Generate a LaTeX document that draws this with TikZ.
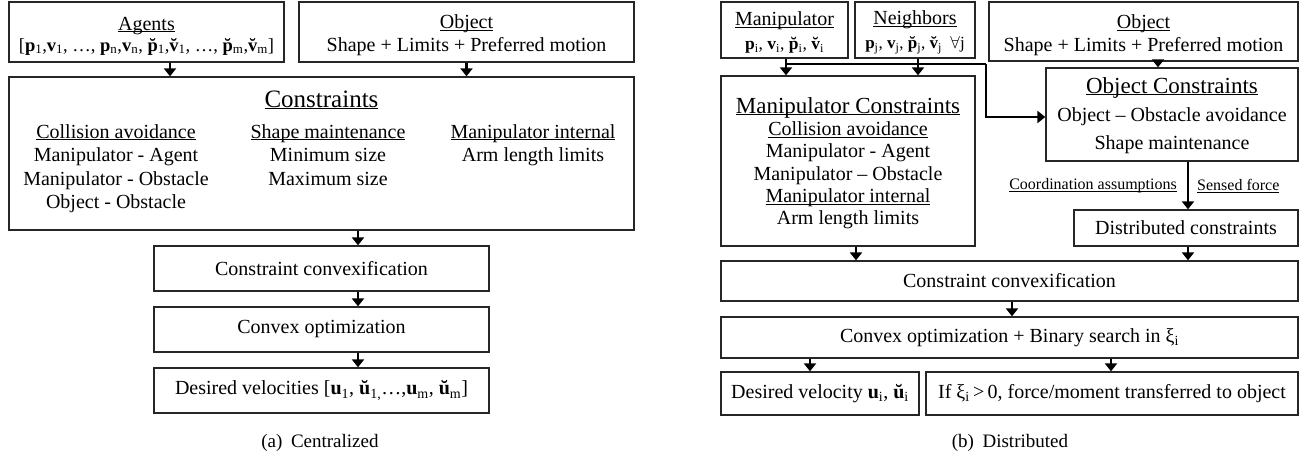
\documentclass[tikz,border=0pt]{standalone}
\usepackage{fontspec}
\setmainfont{Liberation Serif}
\usetikzlibrary{arrows.meta,calc}
\newcommand{\bfl}[1]{\textbf{#1}}
\newcommand{\bfb}[1]{\textbf{\accent"02D8 #1}}
\newcommand{\sbx}[1]{\textsubscript{#1}}
\newcommand{\ulx}[1]{\underline{\smash{#1}}\vphantom{#1}}
\newcommand{\tstrut}[1]{\rule{0pt}{#1}}
\tikzset{
  box/.style={draw=black!85, line width=1.3pt, rectangle, inner sep=0pt, align=center,
    font=\fontsize{20}{21}\selectfont},
  txt/.style={inner sep=0pt, align=center, font=\fontsize{20}{23.5}\selectfont},
  ttl/.style={inner sep=0pt, align=center, font=\fontsize{25}{27}\selectfont},
  lab/.style={inner sep=0pt, font=\fontsize{16}{18}\selectfont},
  captext/.style={inner sep=0pt, font=\fontsize{19}{21}\selectfont},
  arr/.style={line width=2.8pt, -{Triangle[width=12pt,length=8pt]}},
  bus/.style={line width=2.8pt}
}
\begin{document}
\begin{tikzpicture}[x=1pt,y=-1pt]
\useasboundingbox (0,0) rectangle (1307,461);

% ---------------- (a) Centralized ----------------
\node[box, minimum width=275pt, minimum height=60pt] (agents) at (146.5,32)
  {\tstrut{21pt}\ulx{Agents}\\[0pt]
   {\fontsize{18.5}{20}\selectfont [\bfl{p}\sbx{1},\bfl{v}\sbx{1}, …, \bfl{p}\sbx{n},\bfl{v}\sbx{n}, \bfb{p}\sbx{1},\bfb{v}\sbx{1}, …, \bfb{p}\sbx{m},\bfb{v}\sbx{m}]}};
\node[box, minimum width=335pt, minimum height=60pt] (objA) at (466.5,32)
  {\tstrut{21pt}\ulx{Object}\\[2pt] Shape + Limits + Preferred motion};
\node[box, minimum width=625pt, minimum height=153pt] (cons) at (321.5,153.5) {};
\node[ttl] (consT) at (321.5,100) {\ulx{Constraints}};
\node[txt, anchor=north] (c1) at (116,124)
  {\ulx{Collision avoidance}\\ Manipulator - Agent\\ Manipulator - Obstacle\\ Object - Obstacle};
\node[txt, anchor=north] (c2) at (328,124)
  {\ulx{Shape maintenance}\\ Minimum size\\ Maximum size};
\node[txt, anchor=north] (c3) at (533,124)
  {\ulx{Manipulator internal}\\ Arm length limits};
\node[box, minimum width=335pt, minimum height=45pt] (conv) at (321.5,268.5) {Constraint convexification};
\node[box, minimum width=335pt, minimum height=45pt] (opt) at (321.5,329.5) {Convex optimization};
\node[box, minimum width=335pt, minimum height=45pt] (des) at (321.5,390.5)
  {Desired velocities [\bfl{u}\sbx{1}, \bfb{u}\sbx{1,}…,\bfl{u}\sbx{m}, \bfb{u}\sbx{m}]};
\node[captext] (capA) at (320,443) {(a)\hspace{0.45em}Centralized};

\coordinate (xa) at (170,0);
\coordinate (xc) at (358,0);
\draw[arr] (agents.south -| xa) -- (cons.north -| xa);
\draw[arr] (objA.south) -- (cons.north -| objA.south);
\draw[arr] (cons.south -| xc) -- (conv.north -| xc);
\draw[arr] (conv.south -| xc) -- (opt.north -| xc);
\draw[arr] (opt.south -| xc) -- (des.north -| xc);

% ---------------- (b) Distributed ----------------
\node[box, minimum width=127pt, minimum height=56pt] (manip) at (784.5,30)
  {\tstrut{19pt}\ulx{Manipulator}\\[3pt]
   {\fontsize{17.5}{20}\selectfont \bfl{p}\sbx{i}, \bfl{v}\sbx{i}, \bfb{p}\sbx{i}, \bfb{v}\sbx{i}}};
\node[box, minimum width=120pt, minimum height=56pt] (neigh) at (915,30)
  {\tstrut{19pt}\ulx{Neighbors}\\[3pt]
   {\fontsize{17}{20}\selectfont \bfl{p}\sbx{j}, \bfl{v}\sbx{j}, \bfb{p}\sbx{j}, \bfb{v}\sbx{j}\ \ $\forall$j}};
\node[box, minimum width=309pt, minimum height=59pt] (objB) at (1143.5,31.5)
  {\tstrut{21pt}\ulx{Object}\\[2pt] Shape + Limits + Preferred motion};
\node[box, minimum width=254pt, minimum height=170pt] (mcons) at (848,161) {};
\node[txt, anchor=north, font=\fontsize{20}{22.3}\selectfont] (mconsT) at (848,97)
  {{\fontsize{23}{24}\selectfont\ulx{Manipulator Constraints}}\\
   \ulx{Collision avoidance}\\ Manipulator - Agent\\ Manipulator – Obstacle\\
   \ulx{Manipulator internal}\\ Arm length limits};
\node[box, minimum width=252pt, minimum height=93pt] (ocons) at (1172,114.5) {};
\node[txt, anchor=north, font=\fontsize{20}{28}\selectfont] (oconsT) at (1172,77)
  {{\fontsize{23}{24}\selectfont\ulx{Object Constraints}}\\
   Object – Obstacle avoidance\\ Shape maintenance};
\node[box, minimum width=224pt, minimum height=36pt] (dist) at (1186,228) {Distributed constraints};
\node[box, minimum width=577pt, minimum height=40pt] (convB) at (1009.5,281) {Constraint convexification};
\node[box, minimum width=577pt, minimum height=41pt] (optB) at (1009.5,337.5)
  {Convex optimization + Binary search in ξ\sbx{i}};
\node[box, minimum width=198pt, minimum height=43pt] (desB) at (820,393.5)
  {Desired velocity \bfl{u}\sbx{i}, \bfb{u}\sbx{i}};
\node[box, minimum width=372pt, minimum height=43pt] (ifB) at (1112,393.5)
  {If ξ\sbx{i}\,>\,0, force/moment transferred to object};
\node[lab, anchor=east] (coord) at (1177,186) {\ulx{Coordination assumptions}};
\node[lab, anchor=west] (sensed) at (1197,186) {\ulx{Sensed force}};
\node[captext] (capB) at (1010,443) {(b)\hspace{0.45em}Distributed};

\coordinate (bA) at (786,64);
\coordinate (bB) at (986,64);
\coordinate (xo) at (1158,0);
\coordinate (xm) at (856,0);
\coordinate (xd) at (1188,0);
\coordinate (xl) at (810,0);
\coordinate (xr) at (1111,0);
\coordinate (xv) at (1012,0);
\coordinate (xn) at (918,0);
\coordinate (yb) at (0,117);
\draw[arr] (manip.south -| bA) -- (mcons.north -| bA);
\draw[arr] (neigh.south -| xn) -- (mcons.north -| xn);
\draw[bus] (bA) -- (bB);
\draw[arr] (bB) |- (ocons.west |- yb);
\draw[arr] (objB.south -| xo) -- (ocons.north -| xo);
\draw[arr] (ocons.south -| xd) -- (dist.north -| xd);
\draw[arr] (mcons.south -| xm) -- (convB.north -| xm);
\draw[arr] (dist.south -| xd) -- (convB.north -| xd);
\draw[arr] (convB.south -| xv) -- (optB.north -| xv);
\draw[arr] (optB.south -| xl) -- (desB.north -| xl);
\draw[arr] (optB.south -| xr) -- (ifB.north -| xr);
\end{tikzpicture}
\end{document}
